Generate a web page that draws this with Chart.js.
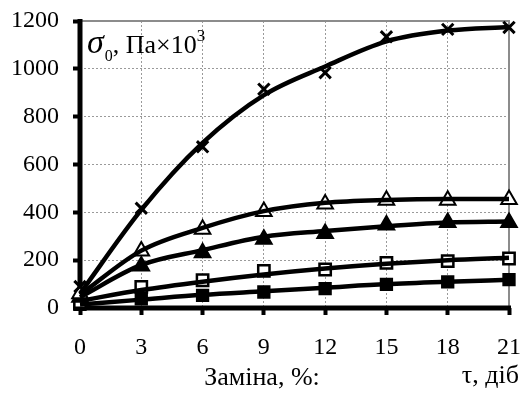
<!DOCTYPE html>
<html>
<head>
<meta charset="utf-8">
<script src="https://cdn.jsdelivr.net/npm/chart.js@4"></script>
<style>
  html, body { margin: 0; padding: 0; background: #fff; }
  #wrap { width: 523px; height: 393px; }
</style>
</head>
<body>
<div id="wrap"><canvas id="graph" width="523" height="393"></canvas></div>
<script>
// days
let days = [0, 3, 6, 9, 12, 15, 18, 21]

// measured points (markers)
let crossPts = [90, 417, 674, 915, 984, 1134, 1165, 1173]
let openTriPts = [60, 238, 329, 403, 435, 451, 451, 454]
let fillTriPts = [45, 176, 231, 287, 312, 347, 357, 357]
let openSqPts = [25, 88, 116, 155, 161, 189, 196, 207]
let fillSqPts = [15, 38, 53, 67, 81, 99, 109, 119]

// smoothed trend lines
let crossLine = [60, 410, 690, 890, 1010, 1115, 1160, 1175]
let openTriLine = [55, 240, 335, 405, 440, 452, 456, 456]
let fillTriLine = [45, 180, 242, 298, 322, 342, 358, 362]
let openSqLine = [30, 75, 110, 140, 165, 185, 200, 210]
let fillSqLine = [15, 35, 55, 70, 85, 100, 110, 118]

let yTicks = [0, 200, 400, 600, 800, 1000, 1200]

function pts(arr) {
    return days.map(function (d, i) { return { x: d, y: arr[i] } })
}

function trend(arr) {
    return {
        data: pts(arr),
        showLine: true,
        borderColor: '#000',
        borderWidth: 4.5,
        pointRadius: 0,
        tension: 0.4,
        cubicInterpolationMode: 'monotone',
        clip: false
    }
}

function marks(arr, style, fill, r, bw) {
    return {
        data: pts(arr),
        showLine: false,
        pointStyle: style,
        pointRadius: r,
        pointBackgroundColor: fill,
        pointBorderColor: '#000',
        pointBorderWidth: bw,
        clip: false
    }
}

let serif = "'Liberation Serif', 'Times New Roman', serif"

let extras = {
    id: 'extras',
    beforeDatasetsDraw: function (chart) {
        let ctx = chart.ctx
        let a = chart.chartArea
        ctx.save()
        // top/right frame in grey
        ctx.strokeStyle = '#8c8c8c'
        ctx.lineWidth = 2
        ctx.beginPath()
        ctx.moveTo(a.left, a.top)
        ctx.lineTo(a.right, a.top)
        ctx.lineTo(a.right, a.bottom)
        ctx.stroke()
        // black axes
        ctx.strokeStyle = '#000'
        ctx.lineWidth = 5
        ctx.beginPath()
        ctx.moveTo(a.left, a.top - 2)
        ctx.lineTo(a.left, a.bottom)
        ctx.lineTo(a.right + 2, a.bottom)
        ctx.stroke()
        ctx.restore()
    },
    afterDraw: function (chart) {
        let ctx = chart.ctx
        let a = chart.chartArea
        ctx.save()
        ctx.fillStyle = '#000'
        ctx.textBaseline = 'alphabetic'
        ctx.textAlign = 'left'
        let x = a.left + 7
        let y = a.top + 32
        ctx.font = 'italic 34px ' + serif
        ctx.fillText('σ', x, y)
        x += ctx.measureText('σ').width + 1
        ctx.font = '16px ' + serif
        ctx.fillText('0', x, y + 8)
        x += ctx.measureText('0').width
        ctx.font = '26px ' + serif
        ctx.fillText(', Па×10', x, y)
        x += ctx.measureText(', Па×10').width
        ctx.font = '17px ' + serif
        ctx.fillText('3', x, y - 12)

        ctx.font = '26px ' + serif
        ctx.textAlign = 'center'
        ctx.fillText('Заміна, %:', 262, 385)
        ctx.textAlign = 'right'
        ctx.fillText('τ, діб', 519, 383)
        ctx.restore()
    }
}

new Chart(document.getElementById('graph').getContext('2d'), {
    type: 'scatter',
    data: {
        datasets: [
            trend(crossLine),
            trend(openTriLine),
            trend(fillTriLine),
            trend(openSqLine),
            trend(fillSqLine),
            marks(crossPts, 'crossRot', '#000', 8, 3),
            marks(openTriPts, 'triangle', '#fff', 9, 2),
            marks(fillTriPts, 'triangle', '#000', 9, 2),
            marks(openSqPts, 'rect', '#fff', 8, 2.5),
            marks(fillSqPts, 'rect', '#000', 8, 2)
        ]
    },
    options: {
        responsive: false,
        animation: false,
        layout: { padding: { top: 21, right: 14, left: 0, bottom: 0 } },
        plugins: {
            legend: { display: false },
            tooltip: { enabled: false }
        },
        scales: {
            x: {
                type: 'linear',
                min: 0,
                max: 21,
                afterFit: function (s) {
                    s.height = 85
                    s.paddingLeft = 0
                    s.paddingRight = 0
                },
                afterBuildTicks: function (s) { s.ticks = days.map(function (v) { return { value: v } }) },
                ticks: {
                    color: '#000', padding: 18, maxRotation: 0,
                    font: { family: serif, size: 24 },
                    callback: function (v) { return String(v) }
                },
                grid: { color: '#9a9a9a', lineWidth: 1, tickColor: '#000', tickWidth: 4, tickLength: 7, tickBorderDash: [] },
                border: { display: false, dash: [2, 2] }
            },
            y: {
                min: 0,
                max: 1200,
                afterFit: function (s) {
                    s.width = 80
                    s.paddingTop = 0
                    s.paddingBottom = 0
                },
                afterBuildTicks: function (s) { s.ticks = yTicks.map(function (v) { return { value: v } }) },
                ticks: {
                    color: '#000', padding: 14,
                    font: { family: serif, size: 24 },
                    callback: function (v) { return String(v) }
                },
                grid: { color: '#9a9a9a', lineWidth: 1, tickColor: '#000', tickWidth: 4, tickLength: 7, tickBorderDash: [] },
                border: { display: false, dash: [2, 2] }
            }
        }
    },
    plugins: [extras]
})
</script>
</body>
</html>
